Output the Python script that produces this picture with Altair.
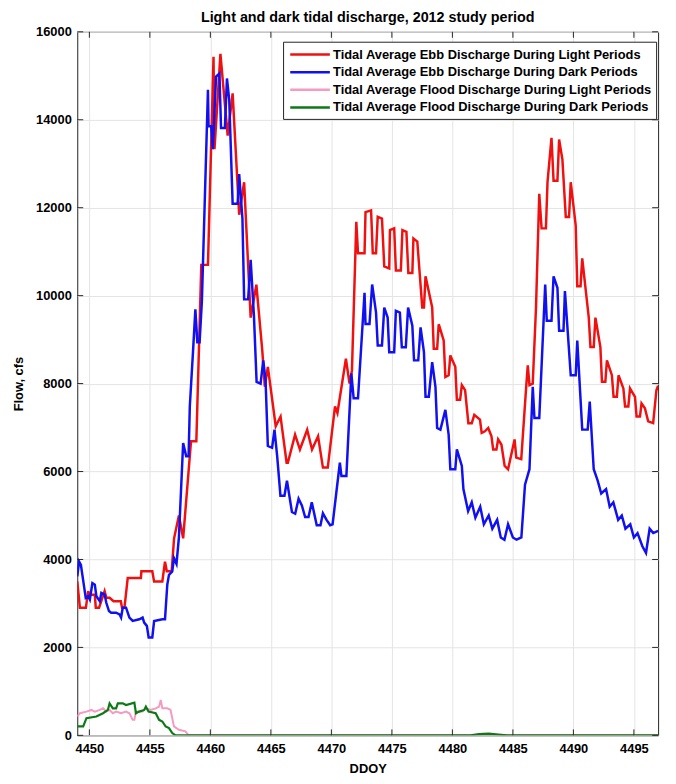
import altair as alt
import pandas as pd

chart_title = "Light and dark tidal discharge, 2012 study period"
x_title = "DDOY"
y_title = "Flow, cfs"
series_names = [
    "Tidal Average Ebb Discharge During Light Periods",
    "Tidal Average Ebb Discharge During Dark Periods",
    "Tidal Average Flood Discharge During Light Periods",
    "Tidal Average Flood Discharge During Dark Periods",
]
series_colors = ["#f01010", "#1010f0", "#f59ac0", "#0b7a14"]
series_widths = [2.5, 2.5, 2.0, 2.2]

x_ticks = [4450, 4455, 4460, 4465, 4470, 4475, 4480, 4485, 4490, 4495]
y_ticks = [0, 2000, 4000, 6000, 8000, 10000, 12000, 14000, 16000]

# Ebb, light
ebb_light_x = [4449.0, 4449.22, 4449.71, 4449.9, 4450.0, 4450.45, 4450.53, 4450.8, 4451.26, 4451.4,
               4451.67, 4452.0, 4452.6, 4452.7, 4452.9, 4453.17, 4454.26, 4454.3, 4455.2, 4455.35,
               4456.03, 4456.25, 4456.4, 4456.8, 4457.0, 4457.4, 4457.75, 4458.4, 4458.84, 4459.25,
               4459.8, 4460.26, 4460.34, 4460.83, 4461.43, 4461.84, 4462.38, 4462.79, 4463.33, 4463.8,
               4464.29, 4464.5, 4464.75, 4465.4, 4465.8, 4466.3, 4466.4, 4467.0, 4467.4, 4468.0,
               4468.4, 4468.9, 4469.3, 4469.7, 4470.3, 4470.5, 4471.2, 4471.5, 4471.7, 4472.06,
               4472.2, 4472.74, 4472.82, 4473.28, 4473.42, 4473.69, 4473.83, 4474.18, 4474.37, 4474.78,
               4474.84, 4475.19, 4475.33, 4475.74, 4475.87, 4476.2, 4476.36, 4476.69, 4476.78, 4477.1,
               4477.51, 4477.65, 4477.78, 4478.33, 4478.46, 4478.74, 4478.87, 4479.28, 4479.42, 4479.69,
               4479.83, 4480.24, 4480.37, 4480.64, 4480.78, 4481.05, 4481.32, 4481.6, 4481.81, 4482.28,
               4482.42, 4482.69, 4482.96, 4483.23, 4483.37, 4483.64, 4483.78, 4484.05, 4484.32, 4484.6,
               4485.14, 4485.28, 4485.69, 4486.1, 4486.23, 4486.37, 4486.64, 4486.91, 4487.18, 4487.37,
               4487.73, 4487.86, 4488.19, 4488.36, 4488.68, 4488.82, 4489.09, 4489.37, 4489.64, 4489.78,
               4490.19, 4490.32, 4490.59, 4490.73, 4491.27, 4491.41, 4491.68, 4491.82, 4492.23, 4492.36,
               4492.64, 4492.77, 4493.18, 4493.32, 4493.59, 4493.73, 4494.13, 4494.27, 4494.54, 4494.68,
               4495.09, 4495.22, 4495.5, 4495.63, 4495.91, 4496.18, 4496.59, 4496.86, 4497.0]
ebb_light_y = [3500, 2900, 2900, 3280, 3200, 3200, 2900, 2900, 3280, 3130,
               3130, 3050, 3050, 2900, 2900, 3580, 3580, 3730, 3730, 3500,
               3500, 3950, 3730, 3730, 4480, 5000, 4480, 6690, 6690, 10700,
               10700, 15435, 13330, 15500, 13640, 14600, 11840, 12580, 9500, 10250,
               8750, 7930, 8380, 7030, 7250, 6200, 6200, 6840, 6500, 6950,
               6500, 6800, 6090, 6090, 7480, 7330, 8565, 8000, 8300, 11680,
               10965, 10965, 11900, 11940, 10965, 10965, 11790, 11750, 10665, 10620,
               11490, 11530, 10570, 10570, 11490, 11450, 10515, 10515, 11300, 11230,
               9730, 9730, 10440, 9730, 8790, 8790, 9350, 8980, 8150, 8190,
               8640, 8380, 7630, 7630, 7965, 7850, 7100, 7100, 7290, 7180,
               6880, 6915, 6990, 6800, 6500, 6500, 6730, 6615, 6130, 6050,
               6730, 6315, 6280, 7930, 8415, 7965, 8000, 9730, 12315, 11530,
               11530, 12580, 13590, 12615, 12615, 13550, 13100, 11790, 11790, 12580,
               11600, 10215, 10215, 10850, 9500, 8830, 8830, 9500, 8830, 8040,
               8040, 8530, 8190, 7700, 7700, 8190, 7890, 7480, 7480, 7890,
               7700, 7250, 7250, 7550, 7440, 7140, 7100, 7850, 7950]

# Ebb, dark
ebb_dark_x = [4449.0, 4449.15, 4449.3, 4449.5, 4449.7, 4449.9, 4450.04, 4450.25, 4450.45, 4450.58,
              4450.86, 4450.99, 4451.26, 4451.4, 4451.62, 4451.8, 4452.21, 4452.49, 4452.62, 4452.76,
              4453.03, 4453.31, 4453.58, 4454.12, 4454.4, 4454.53, 4454.75, 4454.9, 4455.2, 4455.35,
              4456.03, 4456.25, 4456.44, 4456.58, 4456.85, 4456.99, 4457.2, 4457.4, 4457.75, 4458.0,
              4458.2, 4458.3, 4458.57, 4458.76, 4458.92, 4459.11, 4459.3, 4459.8, 4459.85, 4460.07,
              4460.2, 4460.47, 4460.75, 4460.88, 4461.2, 4461.37, 4461.56, 4461.84, 4462.25, 4462.38,
              4462.65, 4462.79, 4463.12, 4463.33, 4463.6, 4463.82, 4464.15, 4464.37, 4464.56, 4464.75,
              4465.1, 4465.3, 4465.52, 4465.79, 4466.12, 4466.33, 4466.74, 4467.01, 4467.29, 4467.56,
              4467.83, 4468.11, 4468.38, 4468.79, 4469.1, 4469.3, 4469.6, 4469.9, 4470.1, 4470.4,
              4470.7, 4470.83, 4471.24, 4471.65, 4471.84, 4472.2, 4472.74, 4472.82, 4473.15, 4473.37,
              4473.69, 4473.83, 4474.18, 4474.37, 4474.65, 4474.78, 4475.19, 4475.33, 4475.66, 4475.82,
              4476.15, 4476.34, 4476.69, 4476.83, 4477.18, 4477.37, 4477.65, 4477.78, 4478.05, 4478.33,
              4478.6, 4478.74, 4479.01, 4479.42, 4479.69, 4479.83, 4480.24, 4480.37, 4480.78, 4480.91,
              4481.3, 4481.6, 4481.9, 4482.3, 4482.6, 4483.0, 4483.3, 4483.7, 4484.0, 4484.3,
              4484.6, 4485.0, 4485.3, 4485.7, 4486.0, 4486.37, 4486.64, 4486.78, 4487.18, 4487.67,
              4487.8, 4488.19, 4488.36, 4488.68, 4488.82, 4489.18, 4489.3, 4489.78, 4490.19, 4490.32,
              4490.73, 4491.18, 4491.35, 4491.68, 4492.0, 4492.3, 4492.7, 4493.0, 4493.3, 4493.7,
              4494.0, 4494.3, 4494.7, 4495.0, 4495.3, 4495.7, 4496.0, 4496.3, 4496.6, 4497.0]
ebb_dark_y = [3615, 3953, 3878, 3503, 3128, 3165, 3090, 3465, 3428, 3165,
              3053, 3240, 3203, 3015, 2828, 2790, 2790, 2753, 2680, 2903,
              2903, 2678, 2603, 2640, 2678, 2565, 2490, 2228, 2228, 2600,
              2640, 2640, 3430, 3650, 3730, 4030, 3900, 4500, 6650, 6350,
              6350, 7480, 8750, 9690, 8940, 8940, 9878, 14680, 13850, 13850,
              13330, 14980, 15050, 13815, 13815, 14940, 14450, 12090, 12090, 12765,
              11750, 9915, 9915, 10815, 9540, 8040, 8000, 8530, 8080, 6580,
              6540, 6950, 6350, 5450, 5450, 5790, 5080, 5040, 5380, 5230,
              4965, 4965, 5300, 4780, 4780, 5050, 4900, 4780, 4800, 5500,
              6200, 5900, 5900, 8230, 7665, 7665, 10065, 9353, 9353, 10253,
              9615, 8865, 8865, 9728, 9503, 8715, 8715, 9653, 9615, 8828,
              8828, 9728, 9315, 8528, 8528, 9278, 8715, 7703, 7703, 8490,
              7928, 6990, 6953, 7403, 6840, 6053, 6053, 6503, 6128, 5603,
              5100, 5300, 4950, 5200, 4800, 5000, 4700, 4900, 4500, 4450,
              4800, 4500, 4450, 4500, 5700, 6053, 7928, 7215, 7215, 10253,
              9428, 9428, 10440, 10178, 9203, 9203, 10103, 8190, 8190, 8978,
              6953, 6953, 7590, 6053, 5800, 5500, 5600, 5200, 5300, 4900,
              5000, 4700, 4800, 4500, 4600, 4300, 4150, 4700, 4600, 4650]

# Flood, light
flood_light_x = [4449.0, 4449.22, 4449.76, 4450.17, 4450.45, 4450.86, 4451.13, 4451.4, 4451.67, 4451.94,
                 4452.21, 4452.62, 4453.03, 4453.31, 4453.58, 4453.72, 4453.85, 4454.4, 4454.67, 4455.07,
                 4455.48, 4455.76, 4455.9, 4456.03, 4456.44, 4456.71, 4456.99, 4457.4, 4457.94, 4458.2,
                 4497.0]
flood_light_y = [428, 503, 540, 578, 540, 578, 615, 540, 578, 503,
                 540, 503, 540, 503, 353, 353, 540, 540, 615, 578,
                 615, 653, 803, 615, 615, 578, 203, 128, 90, 0,
                 0]

# Flood, dark
flood_dark_x = [4449.0, 4449.49, 4449.76, 4450.58, 4451.13, 4451.53, 4451.67, 4451.94, 4452.21, 4452.35,
                4452.76, 4453.03, 4453.72, 4453.85, 4454.12, 4454.53, 4454.67, 4454.89, 4455.48, 4455.76,
                4456.03, 4456.3, 4456.58, 4456.85, 4457.12, 4481.5, 4482.2, 4483.0, 4483.8, 4484.5,
                4497.0]
flood_dark_y = [203, 203, 390, 428, 503, 578, 728, 615, 615, 728,
                728, 690, 743, 503, 540, 578, 653, 540, 503, 353,
                315, 203, 165, 53, 0, 0, 30, 40, 20, 0,
                0]

all_x = [ebb_light_x, ebb_dark_x, flood_light_x, flood_dark_x]
all_y = [ebb_light_y, ebb_dark_y, flood_light_y, flood_dark_y]

rows = []
for name, xs, ys in zip(series_names, all_x, all_y):
    for i, (xv, yv) in enumerate(zip(xs, ys)):
        rows.append({"ddoy": xv, "flow": yv, "series": name, "idx": i})
df = pd.DataFrame(rows)

FONT = "Liberation Sans"
W, H = 587, 711

x_scale = alt.Scale(domain=[4449, 4497], nice=False, zero=False)
y_scale = alt.Scale(domain=[0, 16000], nice=False)
color_scale = alt.Scale(domain=series_names, range=series_colors)

base = alt.Chart(df)

layers = []
for k, name in enumerate(series_names):
    layers.append(
        base.transform_filter(alt.datum.series == name)
        .mark_line(clip=True, strokeWidth=series_widths[k], strokeJoin="miter")
        .encode(
            x=alt.X("ddoy:Q", scale=x_scale,
                    axis=alt.Axis(values=x_ticks, format="d", title=x_title, grid=True,
                                  ticks=False, domain=False, labelPadding=7, titlePadding=8)),
            y=alt.Y("flow:Q", scale=y_scale,
                    axis=alt.Axis(values=y_ticks, format="d", title=y_title, grid=True,
                                  ticks=False, domain=False, labelPadding=6, titlePadding=10)),
            color=alt.Color("series:N", scale=color_scale,
                            legend=alt.Legend(title=None, orient="none", legendX=208, legendY=10,
                                              symbolType="M-0.77,0H4.57", symbolSize=225,
                                              symbolStrokeWidth=2.5, labelFontSize=13,
                                              labelFont=FONT, labelFontWeight="bold",
                                              labelColor="black", strokeColor="#222222",
                                              fillColor="white", padding=4, rowPadding=1.8,
                                              labelOffset=28.5, labelLimit=440,
                                              labelExpr="datum.label + '     '")),
            order="idx:Q",
        )
    )

xt = pd.DataFrame({"v": x_ticks})
yt = pd.DataFrame({"v": y_ticks})
tick_color = "#262626"
ticks_bottom = alt.Chart(xt).mark_rule(color=tick_color, strokeWidth=1).encode(
    x=alt.X("v:Q", scale=x_scale), y=alt.value(H), y2=alt.value(H - 6))
ticks_top = alt.Chart(xt).mark_rule(color=tick_color, strokeWidth=1).encode(
    x=alt.X("v:Q", scale=x_scale), y=alt.value(0), y2=alt.value(6))
ticks_left = alt.Chart(yt).mark_rule(color=tick_color, strokeWidth=1).encode(
    y=alt.Y("v:Q", scale=y_scale), x=alt.value(0), x2=alt.value(6))
ticks_right = alt.Chart(yt).mark_rule(color=tick_color, strokeWidth=1).encode(
    y=alt.Y("v:Q", scale=y_scale), x=alt.value(W), x2=alt.value(W - 6))

chart = alt.layer(*layers, ticks_bottom, ticks_top, ticks_left, ticks_right).properties(
    width=W, height=H,
    title=alt.TitleParams(chart_title, font=FONT, fontSize=14.5, fontWeight="bold",
                          color="black", anchor="middle", offset=0),
    autosize=alt.AutoSizeParams(type="none"),
    padding={"left": 70, "top": 20, "right": 10, "bottom": 37},
).configure_view(stroke="#222222", strokeWidth=1).configure_axis(
    labelFont=FONT, labelFontSize=13, labelFontWeight="bold", labelColor="black",
    titleFont=FONT, titleFontSize=13, titleFontWeight="bold", titleColor="black",
    gridColor="#e4e4e4", gridWidth=1,
)

chart.save("out.html", embed_options={"renderer": "svg", "actions": False})
